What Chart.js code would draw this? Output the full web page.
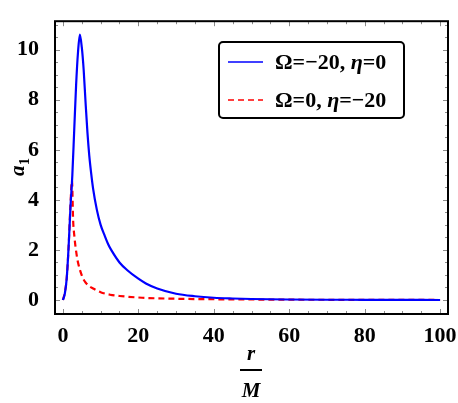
<!DOCTYPE html>
<html>
<head>
<meta charset="utf-8">
<script src="https://cdn.jsdelivr.net/npm/chart.js@4"></script>
<style>
  html, body { margin: 0; padding: 0; background: #fff; }
  #wrap { width: 458px; height: 403px; }
</style>
</head>
<body>
<div id="wrap"><canvas id="c" width="458" height="403"></canvas></div>
<script>
'use strict';

/* ---- data ---- */
const blueR  = [0, 0.5, 1, 1.5, 2, 2.5, 3, 3.5, 4, 4.5, 5, 5.5, 6, 6.5, 7, 7.5, 8, 9, 10, 11, 12, 13, 15, 17, 20, 22, 25, 30, 35, 40, 45, 50, 60, 70, 80, 90, 100];
const blueA1 = [0, 0.25, 0.85, 2.1, 3.7, 5.0, 6.8, 8.6, 9.9, 10.6, 10.1, 9.2, 7.9, 6.7, 5.75, 5.05, 4.45, 3.6, 3.0, 2.6, 2.23, 1.95, 1.5, 1.2, 0.85, 0.66, 0.46, 0.25, 0.15, 0.09, 0.06, 0.04, 0.02, 0.01, 0.008, 0.005, 0];

const redR  = [0, 0.5, 1, 1.5, 2, 2.4, 2.7, 3, 3.6, 4, 5, 5.4, 6, 7, 8, 10, 12.5, 15, 21, 30, 40, 50, 60, 80, 100];
const redA1 = [0, 0.3, 0.85, 2.1, 3.8, 4.77, 3.2, 2.6, 1.84, 1.5, 0.98, 0.84, 0.7, 0.55, 0.46, 0.31, 0.21, 0.16, 0.09, 0.05, 0.03, 0.02, 0.012, 0.006, 0];

const seriesLabels = [
  [['Ω=−20, ', 'b'], ['η', 'bi'], ['=0', 'b']],
  [['Ω=0, ', 'b'], ['η', 'bi'], ['=−20', 'b']]
];
const xTicks = [0, 20, 40, 60, 80, 100];
const yTicks = [0, 2, 4, 6, 8, 10];

const SERIF = "'Liberation Serif', 'Times New Roman', serif";

function toPoints(xs, ys) {
  return xs.map((x, i) => ({ x: x, y: ys[i] }));
}

/* ---- frame, inner ticks, titles, legend ---- */
const decor = {
  id: 'decor',
  afterDraw(chart) {
    const ctx = chart.ctx;
    const a = chart.chartArea;
    const xs = chart.scales.x, ys = chart.scales.y;
    ctx.save();

    // inner tick marks on all four sides
    ctx.strokeStyle = '#8a8a8a';
    ctx.lineWidth = 1;
    for (let v = 0; v <= 100; v += 5) {
      const px = Math.round(xs.getPixelForValue(v)) + 0.5;
      const len = v % 20 === 0 ? 5 : 3;
      ctx.beginPath();
      ctx.moveTo(px, a.bottom); ctx.lineTo(px, a.bottom - len);
      ctx.moveTo(px, a.top); ctx.lineTo(px, a.top + len);
      ctx.stroke();
    }
    for (let v = 0; v <= 11; v += 0.5) {
      const py = Math.round(ys.getPixelForValue(v)) + 0.5;
      const len = v % 2 === 0 ? 5 : 3;
      ctx.beginPath();
      ctx.moveTo(a.left, py); ctx.lineTo(a.left + len, py);
      ctx.moveTo(a.right, py); ctx.lineTo(a.right - len, py);
      ctx.stroke();
    }

    // frame
    ctx.strokeStyle = '#000';
    ctx.lineWidth = 2;
    ctx.strokeRect(a.left, a.top, a.right - a.left, a.bottom - a.top);

    // y title: a_1
    ctx.fillStyle = '#000';
    ctx.save();
    ctx.translate(24, 166);
    ctx.rotate(-Math.PI / 2);
    ctx.textBaseline = 'alphabetic';
    ctx.textAlign = 'left';
    ctx.font = 'bold italic 21px ' + SERIF;
    ctx.fillText('a', -10, 0);
    ctx.font = 'bold 14px ' + SERIF;
    ctx.fillText('1', 1, 5);
    ctx.restore();

    // x title: r / M
    const cx = 251;
    ctx.textAlign = 'center';
    ctx.textBaseline = 'alphabetic';
    ctx.font = 'bold italic 21px ' + SERIF;
    ctx.fillText('r', cx, 360);
    ctx.fillRect(cx - 11, 369, 22, 2);
    ctx.fillText('M', cx, 397);

    // legend box
    const bx = 219, by = 42, bw = 185, bh = 76;
    ctx.lineWidth = 2;
    ctx.strokeStyle = '#000';
    ctx.fillStyle = '#fff';
    ctx.beginPath();
    ctx.roundRect(bx, by, bw, bh, 4);
    ctx.fill();
    ctx.stroke();

    const rows = [62, 100];
    chart.data.datasets.forEach((ds, i) => {
      const y = rows[i];
      ctx.strokeStyle = ds.borderColor;
      ctx.lineWidth = 1.5;
      ctx.setLineDash(ds.borderDash || []);
      ctx.beginPath();
      ctx.moveTo(228, y); ctx.lineTo(263, y);
      ctx.stroke();
      ctx.setLineDash([]);

      ctx.fillStyle = '#000';
      ctx.textAlign = 'left';
      ctx.textBaseline = 'middle';
      let tx = 275;
      seriesLabels[i].forEach(([txt, st]) => {
        ctx.font = (st === 'bi' ? 'bold italic ' : 'bold ') + '22px ' + SERIF;
        ctx.fillText(txt, tx, y + 1);
        tx += ctx.measureText(txt).width;
      });
    });

    ctx.restore();
  }
};

const chart = new Chart(document.getElementById('c'), {
  type: 'line',
  data: {
    datasets: [
      {
        label: 'Ω=−20, η=0',
        data: toPoints(blueR, blueA1),
        borderColor: '#0000ff',
        borderWidth: 2.2,
        pointRadius: 0,
        cubicInterpolationMode: 'monotone',
        fill: false
      },
      {
        label: 'Ω=0, η=−20',
        data: toPoints(redR, redA1),
        borderColor: '#ff0000',
        borderWidth: 2.2,
        borderDash: [6, 4],
        pointRadius: 0,
        cubicInterpolationMode: 'monotone',
        fill: false
      }
    ]
  },
  options: {
    responsive: false,
    animation: false,
    layout: { padding: { top: 2, right: 10, left: 0, bottom: 0 } },
    plugins: {
      legend: { display: false },
      tooltip: { enabled: false }
    },
    scales: {
      x: {
        type: 'linear',
        min: -2.1,
        max: 102.1,
        afterBuildTicks(s) { s.ticks = xTicks.map(v => ({ value: v })); },
        afterFit(s) { s.height = 89; },
        grid: { display: false },
        border: { display: false },
        ticks: {
          color: '#000',
          padding: 1,
          maxRotation: 0,
          font: { family: SERIF, size: 22, weight: 'bold' }
        }
      },
      y: {
        type: 'linear',
        min: -0.56,
        max: 11.14,
        afterBuildTicks(s) { s.ticks = yTicks.map(v => ({ value: v })); },
        afterFit(s) { s.width = 55; },
        grid: { display: false },
        border: { display: false },
        ticks: {
          color: '#000',
          padding: 8,
          font: { family: SERIF, size: 22, weight: 'bold' }
        }
      }
    }
  },
  plugins: [decor]
});
</script>
</body>
</html>
